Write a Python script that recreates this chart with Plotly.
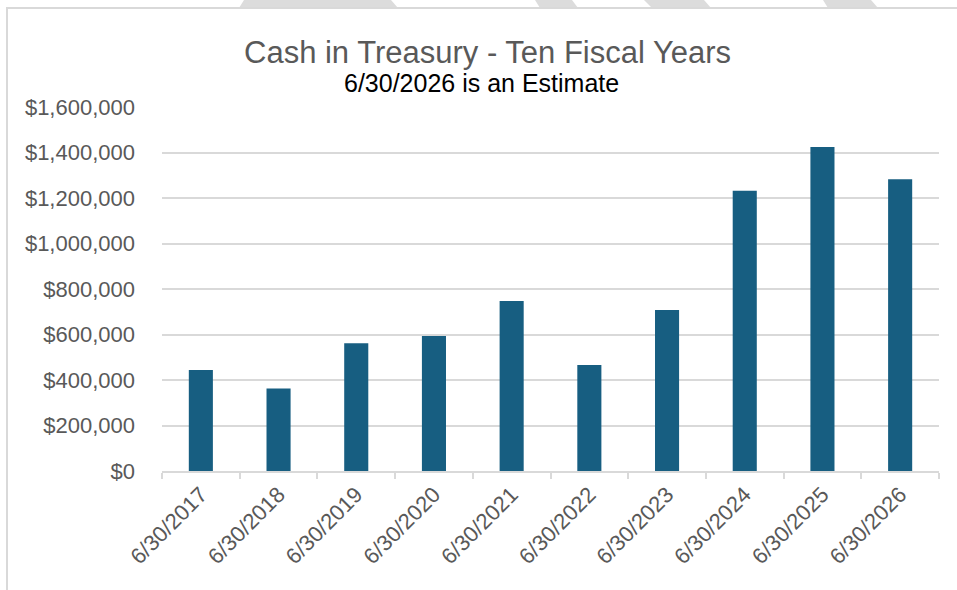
import plotly.graph_objects as go

categories = ["6/30/2017", "6/30/2018", "6/30/2019", "6/30/2020", "6/30/2021",
              "6/30/2022", "6/30/2023", "6/30/2024", "6/30/2025", "6/30/2026"]
cash = [444000, 363000, 561000, 593000, 747000, 466000, 708000, 1232000, 1424000, 1282000]
y_ticks = [0, 200000, 400000, 600000, 800000, 1000000, 1200000, 1400000, 1600000]
y_tick_text = ["$" + format(v, ",") for v in y_ticks]

W, H = 957, 590
L, R, T, B = 162, 18, 107, 119
PW, PH = W - L - R, H - T - B


def px(x):
    return (x - L) / PW


def py(y):
    return (H - B - y) / PH


fig = go.Figure(go.Bar(
    x=categories, y=cash,
    marker=dict(color="#175e81", line=dict(width=0)),
    hoverinfo="x+y",
))

shapes = []
# light gray decorative stripes above the frame
stripes = [((244, 391), (239, 398)), ((535, 572), (540, 578)),
           ((644, 704), (652, 711)), ((823, 871), (828, 878))]
for (t0, t1), (b0, b1) in stripes:
    path = (f"M {px(t0)},{py(0)} L {px(t1)},{py(0)} "
            f"L {px(b1)},{py(8)} L {px(b0)},{py(8)} Z")
    shapes.append(dict(type="path", xref="paper", yref="paper", path=path,
                       fillcolor="#dcdcdc", line=dict(width=0), layer="above"))
# frame lines
shapes.append(dict(type="line", xref="paper", yref="paper",
                   x0=px(6), x1=px(957), y0=py(8), y1=py(8),
                   line=dict(color="#d9d9d9", width=2)))
shapes.append(dict(type="line", xref="paper", yref="paper",
                   x0=px(7), x1=px(7), y0=py(8), y1=py(590),
                   line=dict(color="#d9d9d9", width=2)))

fig.update_layout(
    width=W, height=H,
    margin=dict(l=L, r=R, t=T, b=B, pad=0),
    paper_bgcolor="white", plot_bgcolor="white",
    bargap=0.69,
    showlegend=False,
    shapes=shapes,
    font=dict(family="Liberation Sans, Arial, sans-serif", color="#595959"),
    annotations=[
        dict(text="Cash in Treasury - Ten Fiscal Years", xref="paper", yref="paper",
             x=px(487), y=py(52), xanchor="center", yanchor="middle", showarrow=False,
             font=dict(family="Liberation Sans, Arial, sans-serif",
                       size=31, color="#595959")),
        dict(text="6/30/2026 is an Estimate", xref="paper", yref="paper",
             x=px(481), y=py(83), xanchor="center", yanchor="middle", showarrow=False,
             font=dict(family="Liberation Sans, Arial, sans-serif",
                       size=25, color="#000000")),
    ],
    xaxis=dict(
        type="category",
        tickangle=-45,
        tickson="boundaries",
        ticks="outside", ticklen=6, tickwidth=2, tickcolor="#d9d9d9",
        showline=True, linecolor="#d9d9d9", linewidth=2,
        showgrid=False,
        tickfont=dict(size=22, color="#595959"),
    ),
    yaxis=dict(
        range=[0, 1600000],
        tickvals=y_ticks, ticktext=y_tick_text,
        showgrid=True, gridcolor="#d9d9d9", gridwidth=2,
        zeroline=False, showline=False,
        ticks="", ticklabelstandoff=26,
        tickfont=dict(size=22, color="#595959"),
        fixedrange=True,
    ),
)

fig.write_html("out.html")
